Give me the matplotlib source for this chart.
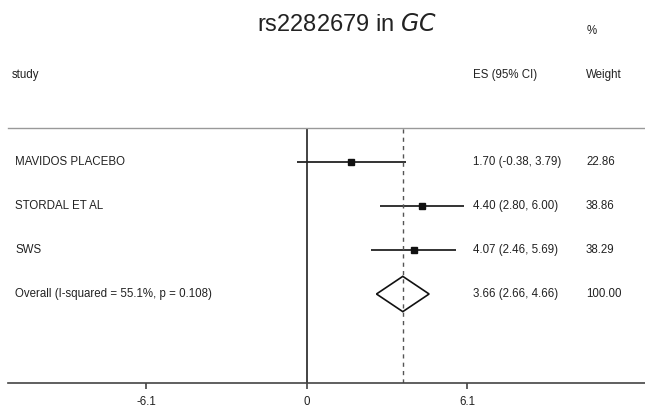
import matplotlib
matplotlib.use("Agg")
import matplotlib.pyplot as plt
from matplotlib.patches import Polygon
from matplotlib.transforms import blended_transform_factory

plt.rcParams['font.family'] = ['Liberation Sans', 'DejaVu Sans']

studies = ["MAVIDOS PLACEBO", "STORDAL ET AL", "SWS"]
es = [1.70, 4.40, 4.07]
lo = [-0.38, 2.80, 2.46]
hi = [3.79, 6.00, 5.69]
weights = [22.86, 38.86, 38.29]
overall_label = "Overall (I-squared = 55.1%, p = 0.108)"
overall_es, overall_lo, overall_hi = 3.66, 2.66, 4.66
overall_weight = 100.00
xticks = [-6.1, 0, 6.1]
xticklabels = ["-6.1", "0", "6.1"]

W, H = 645, 409
fig = plt.figure(figsize=(W / 100, H / 100), dpi=100)
fig.patch.set_facecolor("white")

# axes geometry (pixels)
ax_left, ax_right = 8, 645
ax_top, ax_bottom = 128, 383
ax = fig.add_axes([ax_left / W, 1 - ax_bottom / H,
                   (ax_right - ax_left) / W, (ax_bottom - ax_top) / H])

scale = 26.31
zero_px = 306.5
ax.set_xlim((ax_left - zero_px) / scale, (ax_right - zero_px) / scale)
row0, step = 161.7, 44.1
ax.set_ylim((ax_bottom - row0) / step, (ax_top - row0) / step)

txtc = "#222222"
fs = 8.3

for k in range(len(studies)):
    ax.plot([lo[k], hi[k]], [k, k], color="#111111", lw=1.2, solid_capstyle="butt")
    ax.plot([es[k]], [k], marker="s", ms=3.8, color="#111111", mec="#111111")

ko = len(studies)
diamond = Polygon([(overall_lo, ko), (overall_es, ko - 0.40),
                   (overall_hi, ko), (overall_es, ko + 0.40)],
                  closed=True, fill=False, edgecolor="#111111", lw=1.2)
ax.add_patch(diamond)

ax.axvline(0, color="#222222", lw=1.2)
ax.axvline(overall_es, color="#555555", lw=1.0, ls=(0, (3, 3)))

for s in ["left", "right"]:
    ax.spines[s].set_visible(False)
ax.spines["top"].set_color("#999999")
ax.spines["top"].set_linewidth(1.0)
ax.spines["bottom"].set_color("#444444")
ax.spines["bottom"].set_linewidth(1.2)

ax.set_yticks([])
ax.set_xticks(xticks)
ax.set_xticklabels(xticklabels, fontsize=fs, color=txtc)
ax.tick_params(axis="x", direction="out", length=4, width=1.2, color="#444444", pad=5.5)

tr = blended_transform_factory(fig.transFigure, ax.transData)
labels = studies + [overall_label]
es_all = es + [overall_es]
lo_all = lo + [overall_lo]
hi_all = hi + [overall_hi]
w_all = weights + [overall_weight]
for k in range(len(labels)):
    ax.text(15 / W, k, labels[k], transform=tr, fontsize=fs, color=txtc,
            va="center", ha="left")
    ax.text(473 / W, k, f"{es_all[k]:.2f} ({lo_all[k]:.2f}, {hi_all[k]:.2f})",
            transform=tr, fontsize=fs, color=txtc, va="center", ha="left")
    ax.text(586 / W, k, f"{w_all[k]:.2f}", transform=tr, fontsize=fs,
            color=txtc, va="center", ha="left")

# headers
fig.text(12 / W, 1 - 75 / H, "study", fontsize=fs, color=txtc, va="center", ha="left")
fig.text(473 / W, 1 - 75 / H, "ES (95% CI)", fontsize=fs, color=txtc, va="center", ha="left")
fig.text(586 / W, 1 - 75 / H, "Weight", fontsize=fs, color=txtc, va="center", ha="left")
fig.text(587 / W, 1 - 31 / H, "%", fontsize=fs, color=txtc, va="center", ha="left")

fig.text(346.5 / W, 1 - 25 / H, r"rs2282679 in $\mathit{GC}$", fontsize=17,
         color="#222222", va="center", ha="center")

fig.savefig("out.png", dpi=100, facecolor="white")
